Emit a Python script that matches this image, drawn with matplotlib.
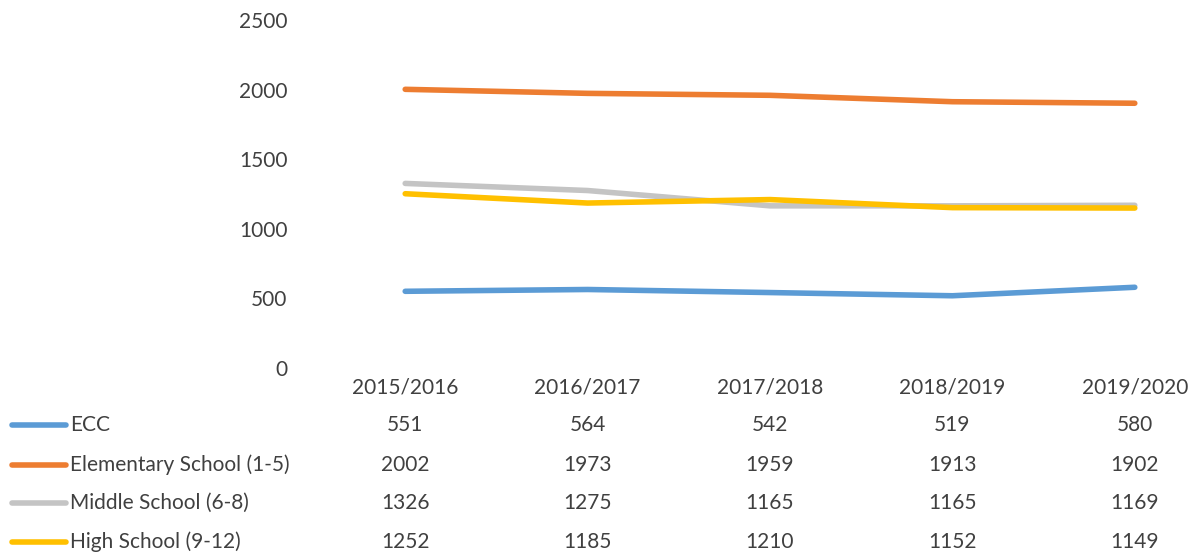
import matplotlib.pyplot as plt
from matplotlib.lines import Line2D
from matplotlib import transforms

plt.rcParams['font.family'] = ['Lato', 'DejaVu Sans']

years = ["2015/2016", "2016/2017", "2017/2018", "2018/2019", "2019/2020"]
series_names = ["ECC", "Elementary School (1-5)", "Middle School (6-8)", "High School (9-12)"]
ecc = [551, 564, 542, 519, 580]
elementary = [2002, 1973, 1959, 1913, 1902]
middle = [1326, 1275, 1165, 1165, 1169]
high = [1252, 1185, 1210, 1152, 1149]
colors = ["#5B9BD5", "#ED7D31", "#C4C4C4", "#FFC000"]

W, H = 1203, 554
fig = plt.figure(figsize=(W / 100, H / 100), dpi=100)
# axes in pixel terms: left 314, right 1226 (cut off), y=0 at 368, y=2500 at 20
ax = fig.add_axes([314 / W, (H - 368) / H, 912 / W, 348 / H])

x = list(range(len(years)))
all_series = [ecc, elementary, middle, high]
for vals, c in zip(all_series, colors):
    ax.plot(x, vals, color=c, lw=4.0, solid_capstyle='round', solid_joinstyle='round')

ax.set_xlim(-0.5, len(years) - 0.5)
ax.set_ylim(0, 2500)
ax.set_yticks(range(0, 2501, 500))
ax.set_xticks([])
ax.tick_params(axis='y', length=0, pad=19, labelsize=15, labelcolor='#404040')
for s in ax.spines.values():
    s.set_visible(False)

# data table below the chart
trans = transforms.blended_transform_factory(ax.transData, fig.transFigure)
header_y = (H - 388) / H
for i, yr in enumerate(years):
    fig.text(i, header_y, yr, transform=trans, ha='center', va='center',
             fontsize=15, color='#404040')

row_ys = [425, 465, 503, 542]
for name, vals, c, ry in zip(series_names, all_series, colors, row_ys):
    yf = (H - ry) / H
    fig.add_artist(Line2D([12 / W, 66 / W], [yf, yf], color=c, lw=4.0,
                          solid_capstyle='round', transform=fig.transFigure))
    fig.text(70 / W, yf, name, ha='left', va='center', fontsize=15, color='#404040')
    for i, v in enumerate(vals):
        fig.text(i, yf, str(v), transform=trans, ha='center', va='center',
                 fontsize=15, color='#404040')

fig.savefig("out.png", dpi=100)
